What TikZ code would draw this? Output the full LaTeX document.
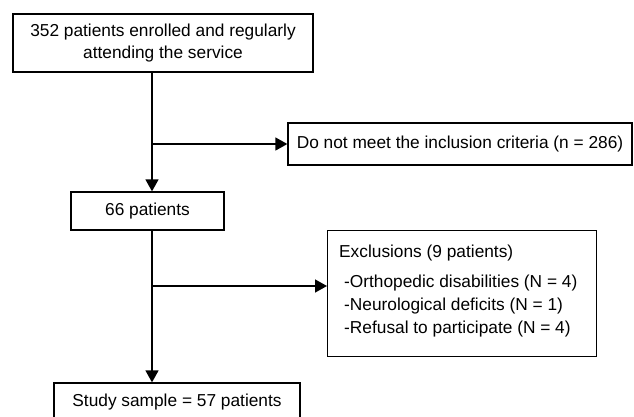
\documentclass[tikz,border=0pt]{standalone}
\usepackage{fontspec}
\setmainfont{Liberation Sans}
\usetikzlibrary{arrows.meta}
\begin{document}
\begin{tikzpicture}[x=1pt,y=1pt,
  box/.style={draw,line width=1.3pt,inner sep=0pt,font=\fontsize{17.3}{21.5}\selectfont,align=center},
  conn/.style={line width=1.5pt,-{Triangle[length=12pt,width=13pt]}},
  plain/.style={line width=1.5pt}]
\useasboundingbox (0,0) rectangle (634,-416);
\node[box,minimum width=300,minimum height=58] (b1) at (163,-43) {352 patients enrolled and regularly\\attending the service};
\node[box,minimum width=344,minimum height=42] (b2) at (460,-144) {Do not meet the inclusion criteria (n = 286)};
\node[box,minimum width=153,minimum height=38] (b3) at (147.5,-211) {66 patients};
\node[box,minimum width=269,minimum height=126,anchor=north west] (b4) at (327,-230) {};
\node[inner sep=0pt,align=left,anchor=west,font=\fontsize{17.3}{23}\selectfont] (b4t) at ([xshift=12pt,yshift=3pt]b4.west)
  {Exclusions (9 patients)\\[7pt]
   \hspace{5pt}-Orthopedic disabilities (N = 4)\\
   \hspace{5pt}-Neurological deficits (N = 1)\\
   \hspace{5pt}-Refusal to participate (N = 4)};
\node[box,minimum width=246,minimum height=38] (b5) at (177,-402) {Study sample = 57 patients};
\coordinate (ax) at (152,0);
\coordinate (j1) at (152,-144);
\coordinate (j2) at (152,-286);
\draw[conn] (b1.south -| ax) -- (b3.north -| ax);
\draw[conn] (j1) -- (b2.west |- j1);
\draw[conn] (b3.south -| ax) -- (b5.north -| ax);
\draw[conn] (j2) -- (b4.west |- j2);
\end{tikzpicture}
\end{document}
